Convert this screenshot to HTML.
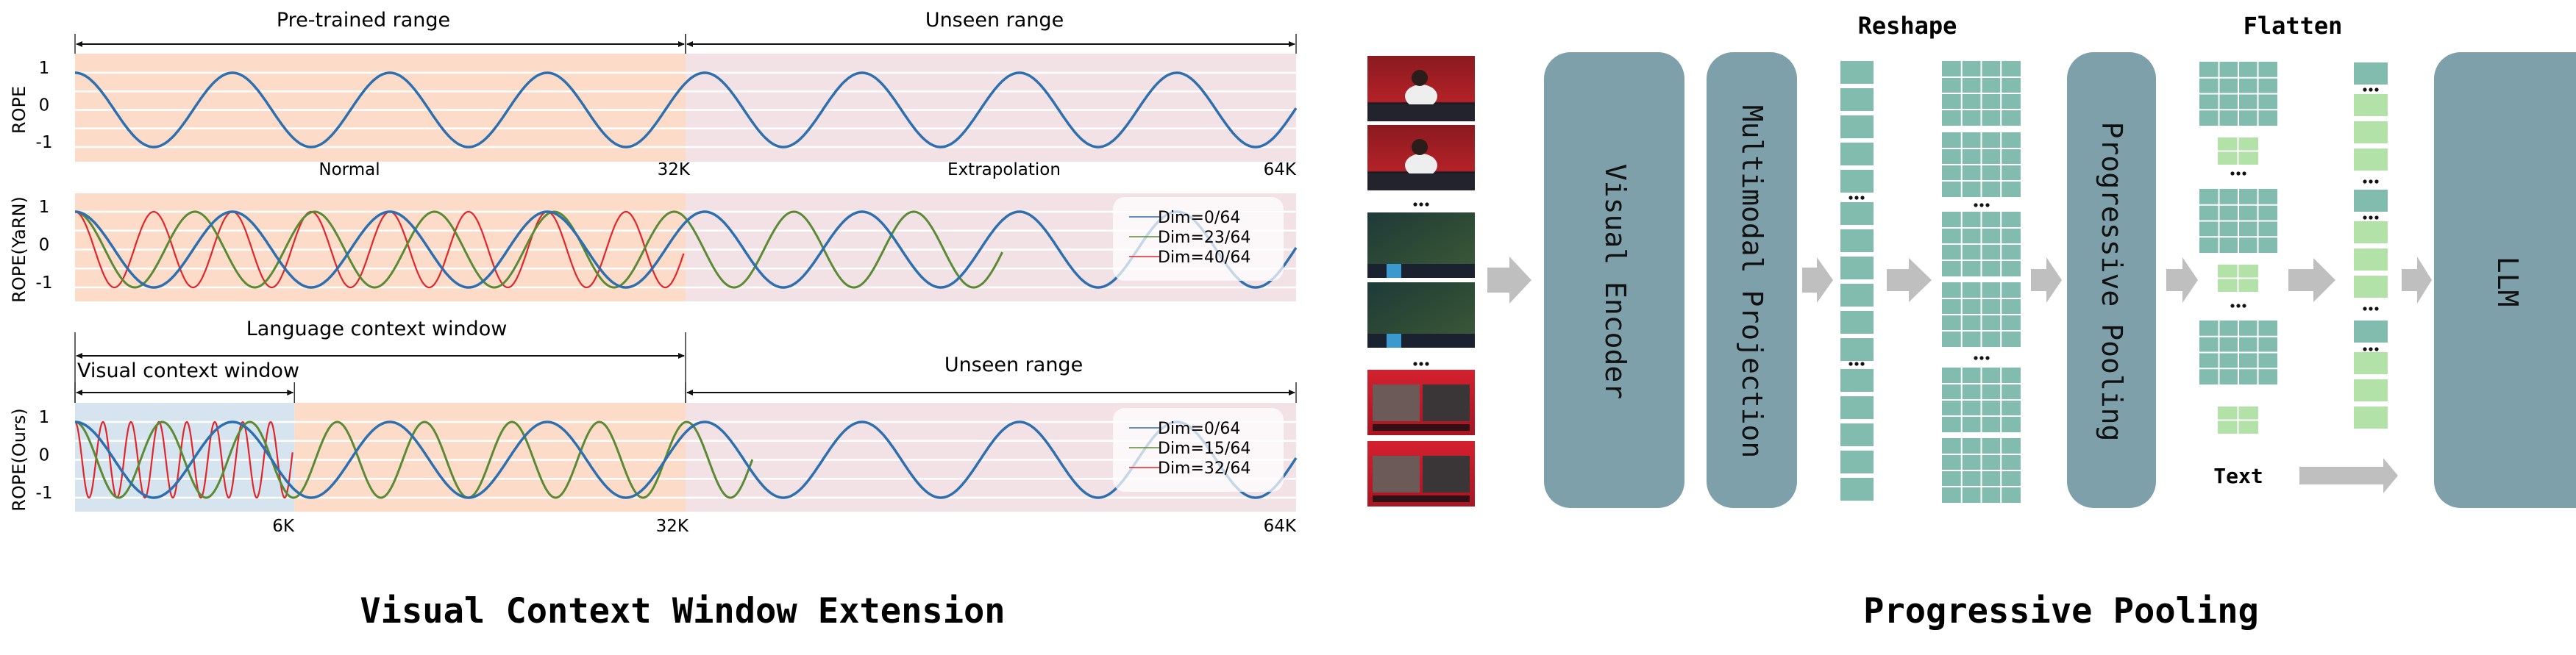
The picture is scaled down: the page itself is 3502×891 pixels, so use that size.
<!DOCTYPE html>
<html><head><meta charset="utf-8"><style>
html,body{margin:0;padding:0;background:#fff;}
svg{display:block;}
text{font-family:"DejaVu Sans","Liberation Sans",sans-serif;}
.mono{font-family:"DejaVu Sans Mono","Liberation Mono",monospace;}
</style></head><body>
<svg id="fig" width="3502" height="891" viewBox="0 0 3502 891" xmlns="http://www.w3.org/2000/svg">
<defs>
<linearGradient id="gRed" x1="0" y1="0" x2="0" y2="1"><stop offset="0" stop-color="#8a1a1f"/><stop offset="0.7" stop-color="#b42228"/><stop offset="0.72" stop-color="#1b1b22"/><stop offset="1" stop-color="#2a2a35"/></linearGradient>
<linearGradient id="gGame" x1="0" y1="0" x2="1" y2="1"><stop offset="0" stop-color="#1e3a3a"/><stop offset="0.5" stop-color="#2d4a35"/><stop offset="1" stop-color="#3e5a3a"/></linearGradient>
<linearGradient id="gCast" x1="0" y1="0" x2="0" y2="1"><stop offset="0" stop-color="#d4202e"/><stop offset="1" stop-color="#a81522"/></linearGradient>
</defs>
<g id="left"></g>
<g id="right"></g>
<text class="mono" x="928" y="847" font-size="47" font-weight="bold" text-anchor="middle">Visual Context Window Extension</text>
<text class="mono" x="2802" y="847" font-size="47" font-weight="bold" text-anchor="middle">Progressive Pooling</text>
</svg>
<script>
// ---- chart data (x in K-position units, 0..64) ----
const xDomain = [0, 64];
const topWavelengths = [8.25];
const topEnds = [64];
const midLabels = ['Dim=0/64', 'Dim=23/64', 'Dim=40/64'];
const midWavelengths = [8.25, 6.28, 4.125];
const midEnds = [64, 48.6, 31.9];
const botLabels = ['Dim=0/64', 'Dim=15/64', 'Dim=32/64'];
const botWavelengths = [8.25, 4.58, 1.465];
const botEnds = [64, 35.5, 11.4];
const yTicks = [1, 0, -1];
const gridLevels = [1, 0.5, 0, -0.5, -1];
const seriesColors = ['#2e6fb0', '#5b8a34', '#e0262a'];

const NS = 'http://www.w3.org/2000/svg';
function mk(tag, attrs, parent) {
  const e = document.createElementNS(NS, tag);
  for (const k in attrs) e.setAttribute(k, attrs[k]);
  parent.appendChild(e);
  return e;
}
const L = document.getElementById('left');
const R = document.getElementById('right');
const X0 = 102, X1 = 1762;
function xs(v) { return X0 + (v - xDomain[0]) / (xDomain[1] - xDomain[0]) * (X1 - X0); }

function panel(name, yTop, yBot, yHi, yLo, regions, waves, ends, labels, legendY, yTitle) {
  const g = mk('g', {}, L);
  
  
  const ys = v => yLo + (v + 1) / 2 * (yHi - yLo);
  regions.forEach(r => {
    const rc = mk('rect', { x: xs(r[0]), y: yTop, width: xs(r[1]) - xs(r[0]), height: yBot - yTop, fill: r[2] }, g);
    
    
  });
  gridLevels.forEach(lv => {
    const ln = mk('line', { x1: X0, x2: X1, y1: ys(lv), y2: ys(lv), stroke: '#fff', 'stroke-width': 2.5 }, g);
    
    
  });
  yTicks.forEach(t => {
    const tx = mk('text', { x: 60, y: ys(t) + 1, 'font-size': 23, 'text-anchor': 'middle' }, g);
    
    
    tx.textContent = String(t);
  });
  const yt = mk('text', { x: 0, y: 0, 'font-size': 24, 'text-anchor': 'middle', transform: 'translate(34,' + ((yHi + yLo) / 2) + ') rotate(-90)' }, g);
  
  
  yt.textContent = yTitle;
  for (let i = waves.length - 1; i >= 0; i--) {
    let d = '';
    const steps = 1400;
    for (let s = 0; s <= steps; s++) {
      const v = ends[i] * s / steps;
      const y = ys(Math.cos(2 * Math.PI * v / waves[i]));
      d += (s ? 'L' : 'M') + xs(v).toFixed(1) + ' ' + y.toFixed(1);
    }
    const p = mk('path', { d: d, fill: 'none', stroke: seriesColors[i], 'stroke-width': i === 0 ? 3.5 : (i === 1 ? 3 : 2.2) }, g);
    
    
  }
  if (labels) {
    const lg = mk('g', {}, g);
    
    
    mk('rect', { x: 1513, y: legendY - 27, width: 232, height: 114, rx: 16, fill: 'rgba(255,255,255,0.72)' }, lg);
    labels.forEach((lb, i) => {
      const yy = legendY + i * 27;
      const ln = mk('line', { x1: 1535, x2: 1576, y1: yy, y2: yy, stroke: seriesColors[i], 'stroke-width': 1.5 }, lg);
      
      
      const tx = mk('text', { x: 1574, y: yy + 8, 'font-size': 22 }, lg);
      
      
      tx.textContent = lb;
    });
  }
}
const OR = '#fcdcc8', PK = '#f2e2e5', BL = '#d5e4ee';
panel('rope-plot', 73, 220, 99, 200, [[0, 32, OR, 'pretrained'], [32, 64, PK, 'unseen']], topWavelengths, topEnds, null, 0, 'ROPE');
panel('rope-yarn-plot', 263, 410, 288, 391, [[0, 32, OR, 'pretrained'], [32, 64, PK, 'unseen']], midWavelengths, midEnds, midLabels, 295, 'ROPE(YaRN)');
panel('rope-ours-plot', 548, 696, 574, 677, [[0, 11.5, BL, 'visual'], [11.5, 32, OR, 'language'], [32, 64, PK, 'unseen']], botWavelengths, botEnds, botLabels, 582, 'ROPE(Ours)');

function txt(parent, name, x, y, s, size, anchor, extra) {
  const t = mk('text', Object.assign({ x: x, y: y, 'font-size': size, 'text-anchor': anchor || 'middle' }, extra || {}), parent);
  
  
  t.textContent = s;
  return t;
}
function span(name, x1, x2, y, t1, t2) {
  const g = mk('g', {}, L);
  
  
  mk('line', { x1: x1 + 2, x2: x2 - 2, y1: y, y2: y, stroke: '#111', 'stroke-width': 2 }, g);
  mk('polygon', { points: (x1 + 1) + ',' + y + ' ' + (x1 + 10) + ',' + (y - 4) + ' ' + (x1 + 10) + ',' + (y + 4), fill: '#111' }, g);
  mk('polygon', { points: (x2 - 1) + ',' + y + ' ' + (x2 - 10) + ',' + (y - 4) + ' ' + (x2 - 10) + ',' + (y + 4), fill: '#111' }, g);
  mk('line', { x1: x1, x2: x1, y1: t1, y2: t2, stroke: '#333', 'stroke-width': 1.5 }, g);
  mk('line', { x1: x2, x2: x2, y1: t1, y2: t2, stroke: '#333', 'stroke-width': 1.5 }, g);
}
span('pretrained-range-arrow', xs(0), xs(32), 60, 46, 73);
span('unseen-range-arrow-top', xs(32), xs(64), 60, 46, 73);
txt(L, 'pretrained-range-label', 494, 36, 'Pre-trained range', 27);
txt(L, 'unseen-range-label-top', 1352, 36, 'Unseen range', 27);
txt(L, 'normal-label', 475, 238, 'Normal', 23);
txt(L, 'tick-32k-top', 938, 238, '32K', 23, 'end');
txt(L, 'extrapolation-label', 1365, 238, 'Extrapolation', 23);
txt(L, 'tick-64k-top', 1762, 238, '64K', 23, 'end');
span('language-window-arrow', xs(0), xs(32), 484, 452, 548);
span('visual-window-arrow', xs(0), xs(11.5), 534, 520, 548);
span('unseen-range-arrow-bottom', xs(32), xs(64), 534, 520, 548);
txt(L, 'language-window-label', 512, 456, 'Language context window', 27);
txt(L, 'visual-window-label', 105, 513, 'Visual context window', 27, 'start');
txt(L, 'unseen-range-label-bottom', 1378, 505, 'Unseen range', 27);
txt(L, 'tick-6k', 400, 723, '6K', 23, 'end');
txt(L, 'tick-32k-bottom', 936, 723, '32K', 23, 'end');
txt(L, 'tick-64k-bottom', 1762, 723, '64K', 23, 'end');

// ---- right diagram ----
const TEAL = '#82bcae', LG = '#b3e2a8', BOX = '#7ea0aa', ARW = '#bfbfbf';
function dots(cx, y) {
  const g = mk('g', {}, R);
  
  
  [-8, 0, 8].forEach(d => mk('circle', { cx: cx + d, cy: y, r: 2.6, fill: '#111' }, g));
}
const thumbY = [76, 170, 289, 384, 503, 600];
const thumbFill = ['url(#gRed)', 'url(#gRed)', 'url(#gGame)', 'url(#gGame)', 'url(#gCast)', 'url(#gCast)'];
thumbY.forEach((y, i) => {
  const g = mk('g', {}, R);
  
  
  mk('rect', { x: 1859, y: y, width: 146, height: 89, fill: thumbFill[i] }, g);
  if (i < 2) {
    mk('ellipse', { cx: 1932, cy: y + 55, rx: 22, ry: 16, fill: '#eee' }, g);
    mk('circle', { cx: 1930, cy: y + 30, r: 11, fill: '#2a1d1a' }, g);
    mk('rect', { x: 1859, y: y + 66, width: 146, height: 23, fill: '#23232e' }, g);
  } else if (i < 4) {
    mk('rect', { x: 1859, y: y + 70, width: 146, height: 19, fill: '#1a2230' }, g);
    mk('rect', { x: 1885, y: y + 70, width: 20, height: 19, fill: '#3a9ad0' }, g);
  } else {
    mk('rect', { x: 1866, y: y + 20, width: 64, height: 50, fill: '#6b5a58' }, g);
    mk('rect', { x: 1934, y: y + 20, width: 64, height: 50, fill: '#3a3638' }, g);
    mk('rect', { x: 1866, y: y + 74, width: 132, height: 9, fill: '#301015' }, g);
  }
});
dots(1932, 278); dots(1932, 495);

function box(name, x, w, label, lx) {
  const g = mk('g', {}, R);
  
  
  mk('rect', { x: x, y: 71, width: w, height: 620, rx: 36, fill: BOX }, g);
  const t = mk('text', { x: 0, y: 0, 'font-size': 38, 'text-anchor': 'middle', class: 'mono', fill: '#111', transform: 'translate(' + lx + ',383) rotate(90)' }, g);
  
  
  t.textContent = label;
}
box('visual-encoder-box', 2099, 191, 'Visual Encoder', 2183);
box('multimodal-projection-box', 2320, 123, 'Multimodal Projection', 2369);
box('progressive-pooling-box', 2810, 121, 'Progressive Pooling', 2858);
box('llm-box', 3309, 230, 'LLM', 3396);

function arrow(name, x1, x2, hx, y, sh, hh) {
  const p = mk('polygon', { points: [x1, y - sh / 2, hx, y - sh / 2, hx, y - hh / 2, x2, y, hx, y + hh / 2, hx, y + sh / 2, x1, y + sh / 2].join(' '), fill: ARW }, R);
  
  
}
arrow('arrow-frames-to-encoder', 2022, 2082, 2052, 381, 34, 64);
arrow('arrow-projection-to-tokens', 2450, 2492, 2470, 381, 34, 62);
arrow('arrow-reshape', 2565, 2626, 2595, 381, 30, 60);
arrow('arrow-grids-to-pooling', 2761, 2803, 2782, 381, 30, 62);
arrow('arrow-pooling-to-grids', 2945, 2988, 2967, 381, 30, 62);
arrow('arrow-flatten', 3111, 3175, 3145, 381, 30, 60);
arrow('arrow-to-llm', 3265, 3306, 3286, 381, 30, 64);
arrow('arrow-text-to-llm', 3126, 3260, 3240, 647, 24, 48);

const tokY = [83, 120, 157, 194, 231, 275, 312, 349, 386, 423, 460, 502, 539, 576, 613, 650];
tokY.forEach(y => {
  const r = mk('rect', { x: 2502, y: y, width: 45, height: 31, fill: TEAL }, R);
  
  
});
dots(2524, 269); dots(2524, 495);

function grid(name, x, y, w, h, n, fill) {
  const g = mk('g', {}, R);
  
  
  mk('rect', { x: x, y: y, width: w, height: h, fill: fill }, g);
  for (let i = 1; i < n; i++) {
    mk('line', { x1: x + w * i / n, x2: x + w * i / n, y1: y, y2: y + h, stroke: '#fff', 'stroke-width': 2 }, g);
    mk('line', { x1: x, x2: x + w, y1: y + h * i / n, y2: y + h * i / n, stroke: '#fff', 'stroke-width': 2 }, g);
  }
}
[83, 180, 288, 384, 500, 596].forEach(y => grid('reshaped-grid', 2640, y, 107, 88, 4, TEAL));
dots(2694, 279); dots(2694, 487);
[84, 257, 436].forEach(y => grid('pooled-grid-full', 2990, y, 106, 87, 4, TEAL));
[187, 360, 553].forEach(y => grid('pooled-grid-small', 3015, y, 55, 37, 2, LG));
dots(3043, 236); dots(3043, 416);

const flatItems = [[85, TEAL], [128, LG], [165, LG], [202, LG], [258, TEAL], [301, LG], [338, LG], [375, LG], [436, TEAL], [479, LG], [516, LG], [553, LG]];
flatItems.forEach(it => {
  const r = mk('rect', { x: 3200, y: it[0], width: 46, height: 30, fill: it[1] }, R);
  
  
});
[122, 247, 296, 420, 475].forEach(y => dots(3223, y));

txt(R, 'reshape-label', 2593, 46, 'Reshape', 32, 'middle', { 'font-weight': 'bold', class: 'mono' });
txt(R, 'flatten-label', 3117, 46, 'Flatten', 32, 'middle', { 'font-weight': 'bold', class: 'mono' });
txt(R, 'text-input-label', 3043, 657, 'Text', 28, 'middle', { 'font-weight': 'bold', class: 'mono' });
</script>
</body></html>
